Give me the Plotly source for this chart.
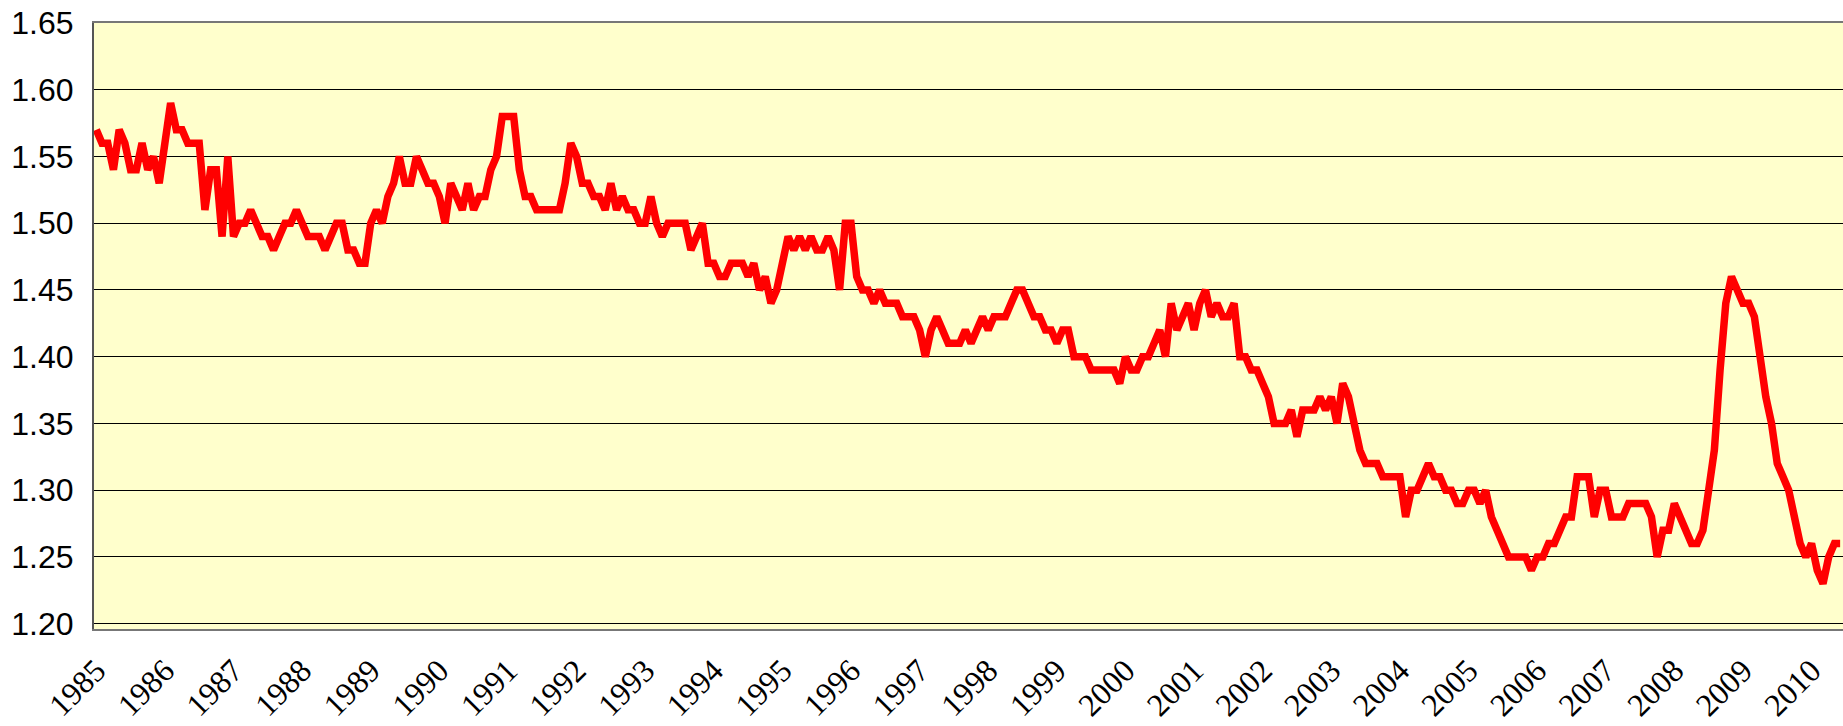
import plotly.graph_objects as go

years = [str(y) for y in range(1985, 2011)]

values = [
    # 1985
    1.57, 1.56, 1.56, 1.54, 1.57, 1.56, 1.54, 1.54, 1.56, 1.54, 1.55, 1.53,
    # 1986
    1.56, 1.59, 1.57, 1.57, 1.56, 1.56, 1.56, 1.51, 1.54, 1.54, 1.49, 1.55,
    # 1987
    1.49, 1.50, 1.50, 1.51, 1.50, 1.49, 1.49, 1.48, 1.49, 1.50, 1.50, 1.51,
    # 1988
    1.50, 1.49, 1.49, 1.49, 1.48, 1.49, 1.50, 1.50, 1.48, 1.48, 1.47, 1.47,
    # 1989
    1.50, 1.51, 1.50, 1.52, 1.53, 1.55, 1.53, 1.53, 1.55, 1.54, 1.53, 1.53,
    # 1990
    1.52, 1.50, 1.53, 1.52, 1.51, 1.53, 1.51, 1.52, 1.52, 1.54, 1.55, 1.58,
    # 1991
    1.58, 1.58, 1.54, 1.52, 1.52, 1.51, 1.51, 1.51, 1.51, 1.51, 1.53, 1.56,
    # 1992
    1.55, 1.53, 1.53, 1.52, 1.52, 1.51, 1.53, 1.51, 1.52, 1.51, 1.51, 1.50,
    # 1993
    1.50, 1.52, 1.50, 1.49, 1.50, 1.50, 1.50, 1.50, 1.48, 1.49, 1.50, 1.47,
    # 1994
    1.47, 1.46, 1.46, 1.47, 1.47, 1.47, 1.46, 1.47, 1.45, 1.46, 1.44, 1.45,
    # 1995
    1.47, 1.49, 1.48, 1.49, 1.48, 1.49, 1.48, 1.48, 1.49, 1.48, 1.45, 1.50,
    # 1996
    1.50, 1.46, 1.45, 1.45, 1.44, 1.45, 1.44, 1.44, 1.44, 1.43, 1.43, 1.43,
    # 1997
    1.42, 1.40, 1.42, 1.43, 1.42, 1.41, 1.41, 1.41, 1.42, 1.41, 1.42, 1.43,
    # 1998
    1.42, 1.43, 1.43, 1.43, 1.44, 1.45, 1.45, 1.44, 1.43, 1.43, 1.42, 1.42,
    # 1999
    1.41, 1.42, 1.42, 1.40, 1.40, 1.40, 1.39, 1.39, 1.39, 1.39, 1.39, 1.38,
    # 2000
    1.40, 1.39, 1.39, 1.40, 1.40, 1.41, 1.42, 1.40, 1.44, 1.42, 1.43, 1.44,
    # 2001
    1.42, 1.44, 1.45, 1.43, 1.44, 1.43, 1.43, 1.44, 1.40, 1.40, 1.39, 1.39,
    # 2002
    1.38, 1.37, 1.35, 1.35, 1.35, 1.36, 1.34, 1.36, 1.36, 1.36, 1.37, 1.36,
    # 2003
    1.37, 1.35, 1.38, 1.37, 1.35, 1.33, 1.32, 1.32, 1.32, 1.31, 1.31, 1.31,
    # 2004
    1.31, 1.28, 1.30, 1.30, 1.31, 1.32, 1.31, 1.31, 1.30, 1.30, 1.29, 1.29,
    # 2005
    1.30, 1.30, 1.29, 1.30, 1.28, 1.27, 1.26, 1.25, 1.25, 1.25, 1.25, 1.24,
    # 2006
    1.25, 1.25, 1.26, 1.26, 1.27, 1.28, 1.28, 1.31, 1.31, 1.31, 1.28, 1.30,
    # 2007
    1.30, 1.28, 1.28, 1.28, 1.29, 1.29, 1.29, 1.29, 1.28, 1.25, 1.27, 1.27,
    # 2008
    1.29, 1.28, 1.27, 1.26, 1.26, 1.27, 1.30, 1.33, 1.39, 1.44, 1.46, 1.45,
    # 2009
    1.44, 1.44, 1.43, 1.40, 1.37, 1.35, 1.32, 1.31, 1.30, 1.28, 1.26, 1.25,
    # 2010
    1.26, 1.24, 1.23, 1.25, 1.26, 1.26,
]

y_ticks = [1.20, 1.25, 1.30, 1.35, 1.40, 1.45, 1.50, 1.55, 1.60, 1.65]

months = list(range(len(values)))
tick_pos = [12 * i for i in range(len(years))]

fig = go.Figure()
fig.add_trace(go.Scatter(
    x=months, y=values, mode="lines",
    line=dict(color="#FF0000", width=7.5),
    hoverinfo="skip", showlegend=False,
))

fig.update_layout(
    width=1843, height=726,
    margin=dict(l=94, r=0, t=23, b=97),
    paper_bgcolor="white",
    plot_bgcolor="#FFFFCC",
    showlegend=False,
)
fig.update_xaxes(
    automargin=False,
    range=[-0.4, len(values) - 0.5],
    tickmode="array", tickvals=tick_pos, ticktext=years,
    tickangle=-45,
    tickfont=dict(family="Liberation Serif", size=32, color="black"),
    showgrid=False, zeroline=False,
    showline=True, linecolor="#777777", linewidth=2, mirror=True,
    ticks="outside", ticklen=8, tickcolor="rgba(0,0,0,0)",
)
fig.update_yaxes(
    automargin=False,
    range=[1.196, 1.65],
    tickmode="array", tickvals=y_ticks,
    ticktext=[f"{v:.2f}" for v in y_ticks],
    tickfont=dict(family="Liberation Sans", size=32, color="black"),
    showgrid=True, gridcolor="black", gridwidth=1,
    zeroline=False,
    showline=True, linecolor="#555555", linewidth=2, mirror=True,
    ticks="outside", ticklen=12, tickcolor="rgba(0,0,0,0)",
)

fig.write_html(
    "out.html",
    config={"displayModeBar": False, "staticPlot": True},
    post_script="document.body.style.margin='0';document.body.style.overflow='hidden';",
)
